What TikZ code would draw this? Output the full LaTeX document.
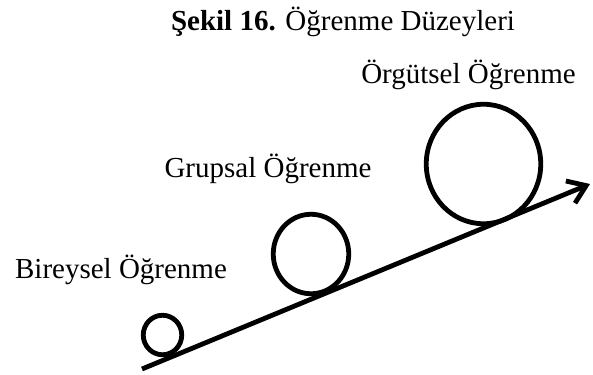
\documentclass[tikz,border=0pt]{standalone}
\usepackage{fontspec}
\setmainfont{Liberation Serif}
\usetikzlibrary{arrows.meta, shapes.geometric}

\begin{document}
\begin{tikzpicture}[
			x=1bp, y=-1bp,
			font=\fontsize{29bp}{34bp}\selectfont,
			% Node styles
			levelRing/.style={ellipse, draw=black, line width=4.8bp, inner sep=0pt},
			levelText/.style={anchor=base, inner sep=0pt},
			% Line styles
			growthLine/.style={line width=4.8bp, -{Straight Barb[length=17bp, width=24bp, line width=4.8bp]}}
			]
			\useasboundingbox (0,0) rectangle (593,374);
			
			% =========================================================
			% 1. TITLE
			% =========================================================
			\node[levelText] (title) at (343,30) {\textbf{Şekil 16.} Öğrenme Düzeyleri};
			
			% =========================================================
			% 2. THE RISING LINE AND THE THREE LEVELS
			% =========================================================
			\coordinate (lineStart) at (142,369);
			\coordinate (lineEnd) at (590,184);
			\draw[growthLine] (lineStart) -- (lineEnd);
			
			% Rings (small to large)
			\node[levelRing, minimum width=38.5bp, minimum height=39.5bp] (ringBireysel) at (162.5,335) {};
			\node[levelRing, minimum width=75.5bp, minimum height=79.5bp] (ringGrupsal) at (311,254) {};
			\node[levelRing, minimum width=114.5bp, minimum height=119.5bp] (ringOrgutsel) at (483.5,164) {};
			
			% Labels
			\node[levelText] (textBireysel) at (121,278) {Bireysel Öğrenme};
			\node[levelText] (textGrupsal) at (268,177) {Grupsal Öğrenme};
			\node[levelText] (textOrgutsel) at (468.5,83) {Örgütsel Öğrenme};
		\end{tikzpicture}
\end{document}
